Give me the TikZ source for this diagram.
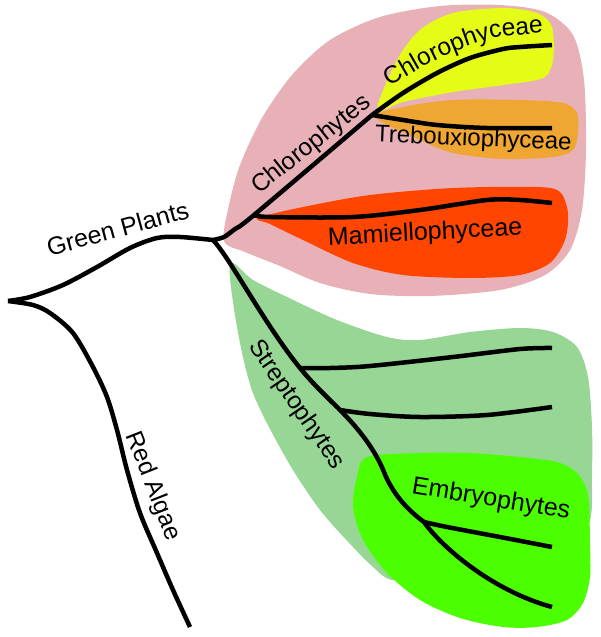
\documentclass[tikz,border=0pt]{standalone}
\usepackage{fontspec}
\setmainfont{Liberation Sans}
\usetikzlibrary{decorations.text}
\definecolor{pinkc}{RGB}{232,177,183}
\definecolor{yellowc}{RGB}{229,252,22}
\definecolor{orangec}{RGB}{240,166,50}
\definecolor{redc}{RGB}{255,69,0}
\definecolor{lgreen}{RGB}{152,214,150}
\definecolor{bgreen}{RGB}{76,255,0}
\begin{document}
\begin{tikzpicture}[x=1pt,y=-1pt,
  branch/.style={line width=4.5pt, line join=round, line cap=butt},
  lbl/.style={anchor=base, inner sep=0pt, font=\fontsize{#1}{#1}\selectfont},
  lbl/.default=24]
\useasboundingbox[fill=white] (0,0) rectangle (600,637);
% blobs
\fill[pinkc] plot[smooth cycle] coordinates {(224,241) (229,205) (240,165) (262,118) (292,75) (330,40) (380,17) (440,6) (500,5) (545,12) (573,35) (584,80) (586,150) (582,210) (570,250) (545,275) (500,290) (430,296) (370,294) (320,283) (280,266) (245,252)};
\fill[yellowc] plot[smooth cycle] coordinates {(377,110) (397,60) (420,30) (453,13) (503,8) (537,13) (552,27) (553,60) (543,78) (503,85) (453,92) (403,102)};
\fill[orangec] plot[smooth cycle] coordinates {(375,117) (403,107) (453,100) (520,100) (563,103) (577,113) (578,133) (573,150) (553,157) (503,159) (453,153) (420,140)};
\fill[redc] plot[smooth cycle] coordinates {(258,218) (303,207) (370,195) (453,188) (537,187) (560,192) (568,213) (565,240) (550,263) (520,275) (470,278) (403,275) (353,263) (303,240) (270,224)};
\fill[lgreen] plot[smooth cycle] coordinates {(230,264) (253,280) (287,297) (337,320) (387,337) (420,340) (470,332) (520,328) (553,332) (577,347) (588,377) (592,427) (592,477) (590,520) (570,540) (500,560) (430,575) (392,580) (372,566) (353,547) (320,510) (287,460) (253,393) (237,327)};
\fill[bgreen] plot[smooth cycle] coordinates {(367,457) (420,453) (470,453) (520,457) (557,462) (577,473) (588,495) (590,543) (590,577) (583,603) (567,620) (537,627) (503,627) (460,618) (420,600) (387,573) (363,540) (353,507) (357,477)};
% junctions
\coordinate (root) at (8,301);
\coordinate (gp) at (213,240);
\coordinate (mam) at (254,215);
\coordinate (chl) at (372,115);
\coordinate (s1) at (300,368);
\coordinate (s2) at (340,410);
\coordinate (s3) at (424,522);
\coordinate (tA) at (552,45);
\coordinate (tB) at (552,128);
\coordinate (tC) at (552,203);
\coordinate (tD) at (552,348);
\coordinate (tE) at (552,407);
\coordinate (tF) at (552,547);
\coordinate (tG) at (552,607);
\coordinate (tR) at (190,627);
% branches
\draw[branch] plot[smooth] coordinates {(root) (30,297) (63,285) (97,267) (130,248) (157,238) (180,237) (gp)};
\draw[branch] plot[smooth] coordinates {(root) (33,305) (50,313) (73,333) (93,367) (107,397) (117,430) (127,470) (140,513) (157,553) (173,590) (tR)};
\draw[branch] plot[smooth] coordinates {(gp) (224,237) (235,229) (mam) (chl)};
\draw[branch] plot[smooth] coordinates {(chl) (403,93) (437,73) (470,58) (503,49) (520,47) (tA)};
\draw[branch] plot[smooth] coordinates {(chl) (403,120) (437,125) (487,128) (tB)};
\draw[branch] plot[smooth] coordinates {(mam) (270,217) (353,217) (420,210) (487,200) (520,200) (tC)};
\draw[branch] (gp) .. controls (230,258) and (265,325) .. (s1)
  .. controls (313,384) and (326,396) .. (s2)
  .. controls (360,430) and (375,450) .. (384,472)
  .. controls (392,492) and (405,508) .. (s3)
  .. controls (440,545) and (490,590) .. (tG);
\draw[branch] plot[smooth] coordinates {(s1) (330,368) (370,366) (453,357) (520,349) (tD)};
\draw[branch] plot[smooth] coordinates {(s2) (370,414) (420,417) (487,415) (tE)};
\draw[branch] plot[smooth] coordinates {(s3) (447,527) (500,537) (tF)};
% labels
\node[lbl=25, rotate=15.3] (lGP) at (120,237) {Green Plants};
\node[lbl=24.5, rotate=-68.6] (lRA) at (146.5,488.6) {Red Algae};
\node[lbl=24.5, rotate=38.5] (lCP) at (315.5,150) {Chlorophytes};
\path[decorate, decoration={text along path, text align=center,
  text={|\fontsize{24.5}{24.5}\selectfont|Chlorophyceae}}]
  plot[smooth] coordinates {(382,92) (397,82) (432,62) (466,47) (500,37) (553,32)};
\node[lbl=24, rotate=-2.4] (lTR) at (473,146) {Trebouxiophyceae};
\node[lbl=25, rotate=3] (lMA) at (425.5,240) {Mamiellophyceae};
\node[lbl=24.5, rotate=-55.5] (lST) at (291,408.5) {Streptophytes};
\node[lbl=25, rotate=-9.3] (lEM) at (490,506) {Embryophytes};
\end{tikzpicture}
\end{document}
